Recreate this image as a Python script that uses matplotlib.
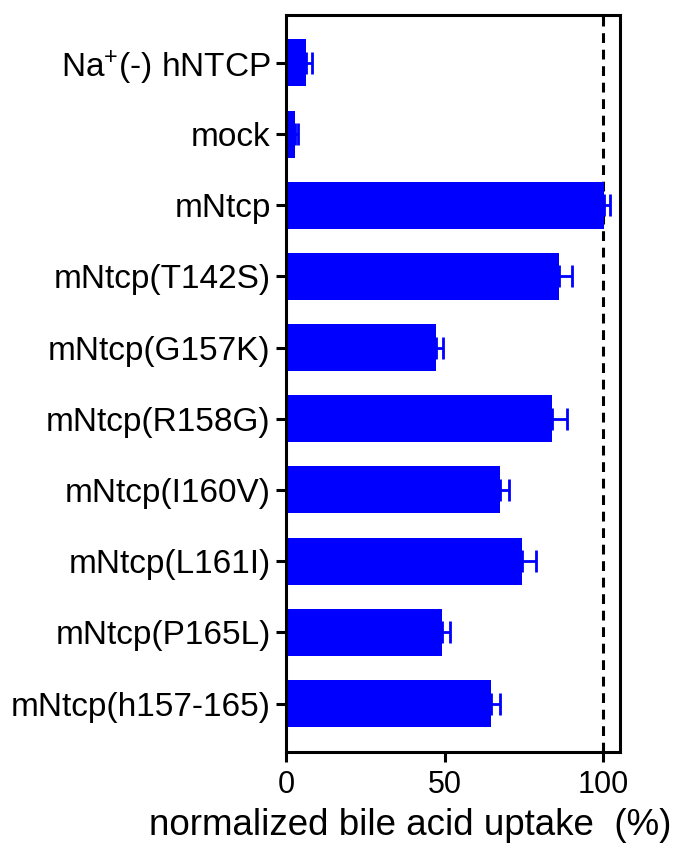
import matplotlib.pyplot as plt

plt.rcParams['font.family'] = ['Liberation Sans', 'DejaVu Sans']
plt.rcParams['mathtext.fontset'] = 'custom'
plt.rcParams['mathtext.rm'] = 'Liberation Sans'
plt.rcParams['mathtext.it'] = 'Liberation Sans'

labels = ["Na$^{+}$(-) hNTCP", "mock", "mNtcp", "mNtcp(T142S)", "mNtcp(G157K)",
          "mNtcp(R158G)", "mNtcp(I160V)", "mNtcp(L161I)", "mNtcp(P165L)",
          "mNtcp(h157-165)"]
uptake = [6.3, 3.0, 100.2, 86.0, 47.3, 83.9, 67.4, 74.5, 49.3, 64.8]
errors = [1.8, 0.9, 2.1, 4.2, 2.3, 4.8, 2.9, 4.5, 2.4, 2.6]

fig = plt.figure(figsize=(6.76, 8.43), dpi=100)
ax = fig.add_axes([0.423, 0.108, 0.494, 0.874])

pos = list(range(len(labels)))
ax.barh(pos, uptake, height=0.66, color='#0000FF', zorder=2)
ax.errorbar(uptake, pos, xerr=[[0] * len(errors), errors], fmt='none',
            ecolor='#0000FF', elinewidth=2, capsize=8, capthick=2, zorder=3)
ax.axvline(100, color='black', lw=2.2, ls=(0, (3.2, 2.2)), zorder=1)

ax.set_xlim(0, 105.3)
ax.set_ylim(9.68, -0.67)
ax.set_yticks(pos)
ax.set_yticklabels(labels, fontsize=24)
ax.set_xticks([0, 50, 100])
ax.tick_params(axis='x', labelsize=22, length=7, width=2.2, pad=6)
ax.tick_params(axis='y', length=7, width=2.2, pad=4)
ax.set_xlabel("normalized bile acid uptake  (%)", fontsize=26.5)
ax.xaxis.set_label_coords(0.372, -0.076)
for s in ax.spines.values():
    s.set_linewidth(2.2)

fig.savefig("out.png", dpi=100)
